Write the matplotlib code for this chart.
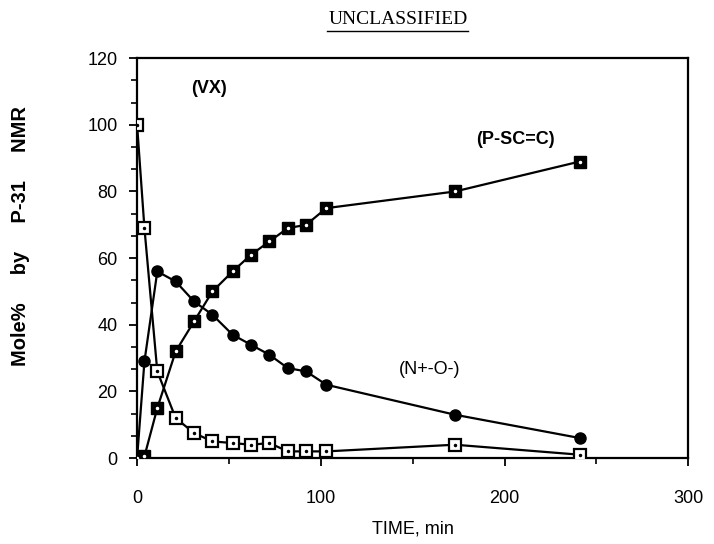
# VX degradation followed by P-31 NMR: mole% vs time

import matplotlib.pyplot as plt
from matplotlib.ticker import MultipleLocator

# Data ..............................................................

time_min = [0, 4, 11, 21, 31, 41, 52, 62, 72, 82, 92, 103, 173, 241]

vx   = [100, 69, 26, 12, 7.5, 5, 4.5, 4, 4.5, 2, 2, 2, 4, 1]
n_o  = [0, 29, 56, 53, 47, 43, 37, 34, 31, 27, 26, 22, 13, 6]
p_sc = [0, 0.5, 15, 32, 41, 50, 56, 61, 65, 69, 70, 75, 80, 89]

FONT = 'Liberation Sans'

# Plot ............................................................................................

fig = plt.figure(figsize = (7.14, 5.44), dpi = 100)
ax = fig.add_axes([0.192, 0.158, 0.772, 0.735])

# Open squares with a dot in the middle (VX)
ax.plot(time_min, vx, color = 'black', lw = 1.6, marker = 's', ms = 8,
        mfc = 'white', mec = 'black', mew = 1.6, zorder = 3)
ax.plot(time_min, vx, ls = 'none', marker = '.', ms = 3, color = 'black', zorder = 4)

# Filled circles (N-oxide)
ax.plot(time_min, n_o, color = 'black', lw = 1.6, marker = 'o', ms = 8,
        mfc = 'black', mec = 'black', zorder = 3)

# Filled squares with a white dot (P-SC=C)
ax.plot(time_min, p_sc, color = 'black', lw = 1.6, marker = 's', ms = 8,
        mfc = 'black', mec = 'black', zorder = 3)
ax.plot(time_min, p_sc, ls = 'none', marker = '.', ms = 3, color = 'white', zorder = 4)

# Curve labels
ax.text(39, 111, '(VX)', fontsize = 13, fontweight = 'bold', family = FONT, ha = 'center', va = 'center')
ax.text(206, 95.5, '(P-SC=C)', fontsize = 13, fontweight = 'bold', family = FONT, ha = 'center', va = 'center')
ax.text(159, 26.5, '(N+-O-)', fontsize = 13, family = FONT, ha = 'center', va = 'center')

# Axes
ax.set_xlim(0, 300)
ax.set_ylim(0, 120)
ax.set_xticks([0, 100, 200, 300])
ax.set_yticks([0, 20, 40, 60, 80, 100, 120])
ax.xaxis.set_minor_locator(MultipleLocator(50))
ax.yaxis.set_minor_locator(MultipleLocator(20 / 3))
ax.tick_params(which = 'major', direction = 'out', length = 6, width = 1.3, labelsize = 13, pad = 8)
ax.tick_params(axis = 'x', which = 'major', pad = 17)
ax.tick_params(which = 'minor', direction = 'out', length = 4, width = 1.2)
for lab in ax.get_xticklabels() + ax.get_yticklabels():
    lab.set_family(FONT)
for s in ax.spines.values():
    s.set_linewidth(1.6)

ax.set_xlabel('TIME, min', fontsize = 13, family = FONT, labelpad = 10)
ax.set_ylabel('Mole%     by     P-31     NMR', fontsize = 14.5, fontweight = 'bold', family = FONT)
ax.yaxis.set_label_coords(-0.194, 0.555)

# Scanned header
fig.text(0.558, 0.965, 'UNCLASSIFIED', fontsize = 14, family = 'Liberation Serif', ha = 'center', va = 'center')
fig.add_artist(plt.Line2D([0.458, 0.656], [0.943, 0.943], color = 'black', lw = 1.0))

plt.savefig('out.png', dpi = 100)
